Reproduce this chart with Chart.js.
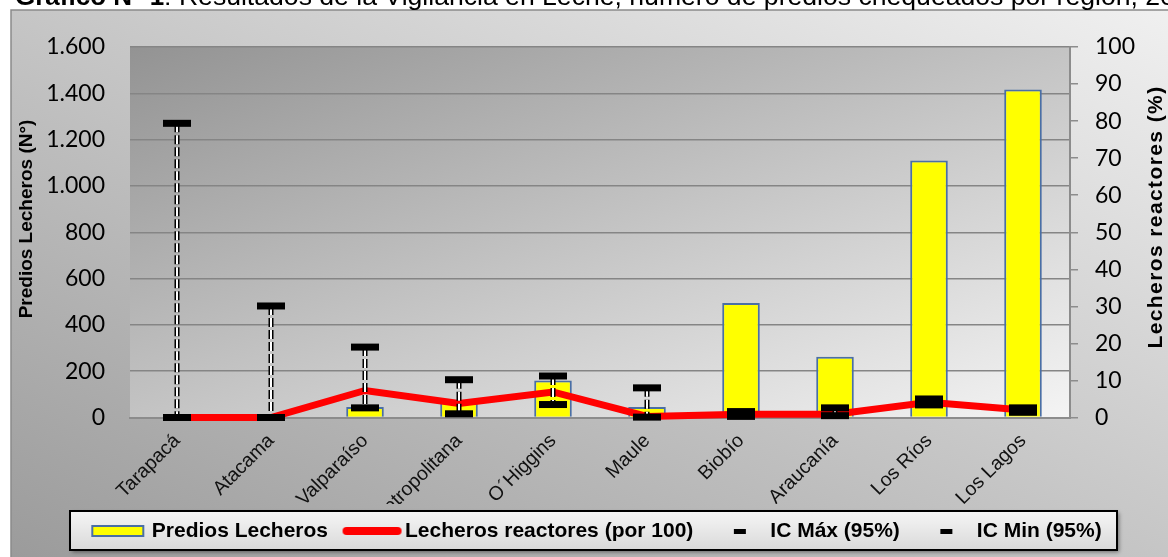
<!DOCTYPE html>
<html>
<head>
<meta charset="utf-8">
<script src="https://cdn.jsdelivr.net/npm/chart.js@4.4.1/dist/chart.umd.min.js"></script>
<style>
  html, body { margin: 0; padding: 0; background: #fff; }
  #wrap { position: relative; width: 1168px; height: 557px; overflow: hidden; }
</style>
</head>
<body>
<div id="wrap">
  <canvas id="grafico" width="1168" height="557"></canvas>
</div>
<script>
// datos
const regiones = ['Tarapacá', 'Atacama', 'Valparaíso', 'Metropolitana', 'O´Higgins', 'Maule', 'Biobío', 'Araucanía', 'Los Ríos', 'Los Lagos'];
const prediosLecheros = [3, 3, 45, 71, 160, 45, 494, 262, 1110, 1416];
const reactores = [0, 0, 7.3, 3.8, 6.9, 0.3, 0.9, 0.9, 4.1, 2.0];
const icMax = [79.4, 30.1, 19.0, 10.2, 11.2, 8.0, 1.6, 2.6, 5.0, 2.6];
const icMin = [0, 0, 2.6, 1.0, 3.5, 0.1, 0.3, 0.5, 3.4, 1.4];
const etiquetasIzq = ['0', '200', '400', '600', '800', '1.000', '1.200', '1.400', '1.600'];
const etiquetasDer = ['0', '10', '20', '30', '40', '50', '60', '70', '80', '90', '100'];

const tituloGrafico = ['Gráfico N° 1', ': Resultados de la Vigilancia en Leche, número de predios chequeados por región, 2012'];
const tituloIzq = 'Predios Lecheros (N°)';
const tituloDer = 'Lecheros reactores (%)';

// simbolos de la leyenda
function simbolo(w, h, dibujar) {
    const c = document.createElement('canvas');
    c.width = w;
    c.height = h;
    dibujar(c.getContext('2d'));
    return c;
}
const simBarra = simbolo(70, 16, g => {
    g.fillStyle = '#ffff00';
    g.fillRect(11, 3, 51, 10);
    g.strokeStyle = '#4a6fa5';
    g.lineWidth = 2;
    g.strokeRect(11, 3, 51, 10);
});
const simLinea = simbolo(68, 16, g => {
    g.strokeStyle = '#ff0000';
    g.lineWidth = 8;
    g.lineCap = 'round';
    g.beginPath();
    g.moveTo(11, 8);
    g.lineTo(62, 8);
    g.stroke();
});
const simIC = simbolo(40, 16, g => {
    g.fillStyle = '#000';
    g.fillRect(19, 6, 12, 5);
});

const fondo = {
    id: 'fondo',
    beforeDraw(chart) {
        const {ctx, chartArea: a} = chart;
        ctx.save();
        // marco exterior
        const W = 1157, H = 547, k1 = 2 * W * H / (W * W + H * H);
        let g = ctx.createLinearGradient(11, 557, 11 + H * k1, 557 - W * k1);
        g.addColorStop(0, '#9b9b9b');
        g.addColorStop(1, '#f0f0f0');
        ctx.fillStyle = g;
        ctx.fillRect(11, 10, 1170, 560);
        ctx.strokeStyle = '#8a8a8a';
        ctx.lineWidth = 1.5;
        ctx.beginPath();
        ctx.moveTo(11, 570);
        ctx.lineTo(11, 10);
        ctx.lineTo(1180, 10);
        ctx.stroke();
        // area de trazado
        const w = a.right - a.left, h = a.bottom - a.top, k = 2 * w * h / (w * w + h * h);
        g = ctx.createLinearGradient(a.left, a.top, a.left + h * k, a.top + w * k);
        g.addColorStop(0, '#939393');
        g.addColorStop(1, '#f4f4f4');
        ctx.fillStyle = g;
        ctx.fillRect(a.left, a.top, w, h);
        // titulo (cortado arriba)
        ctx.fillStyle = '#000';
        ctx.textBaseline = 'alphabetic';
        ctx.font = 'bold 26px "Liberation Sans"';
        ctx.fillText(tituloGrafico[0], 15, 5);
        const x2 = 15 + ctx.measureText(tituloGrafico[0]).width;
        ctx.font = '26.6px "Liberation Sans"';
        ctx.fillText(tituloGrafico[1], x2, 5);
        ctx.restore();
    },
    afterDatasetDraw(chart, args) {
        if (args.index !== 1) return;
        // lineas de los intervalos de confianza
        const {ctx, scales} = chart;
        ctx.save();
        ctx.setLineDash([9, 3]);
        for (let i = 0; i < regiones.length; i++) {
            const x = scales.x.getPixelForValue(i);
            const y1 = scales.y1.getPixelForValue(icMax[i]);
            const y2 = scales.y1.getPixelForValue(icMin[i]);
            ctx.beginPath();
            ctx.moveTo(x, y1);
            ctx.lineTo(x, y2);
            ctx.strokeStyle = '#000';
            ctx.lineWidth = 5;
            ctx.stroke();
            ctx.strokeStyle = '#fff';
            ctx.lineWidth = 2;
            ctx.stroke();
        }
        ctx.restore();
    },
    afterDraw(chart) {
        const ctx = chart.ctx;
        ctx.save();
        // titulos de ejes
        ctx.fillStyle = '#000';
        ctx.textAlign = 'center';
        ctx.textBaseline = 'middle';
        ctx.font = 'bold 19px "Liberation Sans"';
        ctx.translate(27, 219);
        ctx.rotate(-Math.PI / 2);
        ctx.fillText(tituloIzq, 0, 0);
        ctx.restore();
        ctx.save();
        ctx.fillStyle = '#000';
        ctx.textAlign = 'center';
        ctx.textBaseline = 'middle';
        ctx.font = 'bold 21px "Liberation Sans"';
        ctx.letterSpacing = '1.4px';
        ctx.translate(1156, 217);
        ctx.rotate(-Math.PI / 2);
        ctx.fillText(tituloDer, 0, 0);
        ctx.restore();
        // recuadro de la leyenda
        ctx.save();
        ctx.shadowColor = 'rgba(0,0,0,0.45)';
        ctx.shadowBlur = 4;
        ctx.shadowOffsetX = 2;
        ctx.shadowOffsetY = 2;
        const g = ctx.createLinearGradient(0, 511, 0, 550);
        g.addColorStop(0, '#f6f6f6');
        g.addColorStop(1, '#d9d9d9');
        ctx.fillStyle = g;
        ctx.fillRect(70, 511, 1047, 39);
        ctx.shadowColor = 'transparent';
        ctx.strokeStyle = '#000';
        ctx.lineWidth = 2;
        ctx.strokeRect(70, 511, 1047, 39);
        ctx.restore();
        chart.legend.draw();
    }
};

const ctx = document.getElementById('grafico').getContext('2d');
const myChart = new Chart(ctx, {
    data: {
        labels: regiones,
        datasets: [{
            type: 'bar',
            label: 'Predios Lecheros',
            data: prediosLecheros,
            yAxisID: 'y',
            backgroundColor: '#ffff00',
            borderColor: '#4a6fa5',
            borderWidth: 2,
            barPercentage: 0.4,
            categoryPercentage: 1,
            order: 3
        }, {
            type: 'line',
            label: 'Lecheros reactores (por 100)',
            data: reactores,
            yAxisID: 'y1',
            borderColor: '#ff0000',
            borderWidth: 7,
            pointRadius: 0,
            tension: 0,
            clip: false,
            order: 2
        }, {
            type: 'line',
            label: 'IC Máx (95%)',
            data: icMax,
            yAxisID: 'y1',
            showLine: false,
            pointStyle: 'line',
            pointRadius: 14,
            pointBorderWidth: 7,
            borderColor: '#000',
            clip: false,
            order: 0
        }, {
            type: 'line',
            label: 'IC Min (95%)',
            data: icMin,
            yAxisID: 'y1',
            showLine: false,
            pointStyle: 'line',
            pointRadius: 14,
            pointBorderWidth: 7,
            borderColor: '#000',
            clip: false,
            order: 1
        }]
    },
    options: {
        responsive: false,
        animation: false,
        events: [],
        layout: { padding: { left: 25, right: 0, top: 47, bottom: 5.5 } },
        plugins: {
            tooltip: { enabled: false },
            legend: {
                position: 'bottom',
                labels: {
                    usePointStyle: true,
                    pointStyleWidth: 50,
                    boxHeight: 21,
                    padding: 16.5,
                    color: '#000',
                    font: { family: 'Liberation Sans', size: 21, weight: 'bold' },
                    generateLabels: chart => {
                        const sims = [simBarra, simLinea, simIC, simIC];
                        return chart.data.datasets.map((d, i) => ({
                            text: d.label,
                            pointStyle: sims[i],
                            fillStyle: 'transparent',
                            strokeStyle: 'transparent',
                            fontColor: '#000',
                            lineWidth: 0,
                            datasetIndex: i,
                            hidden: false
                        }));
                    }
                }
            }
        },
        scales: {
            x: {
                grid: { display: false, drawTicks: false },
                border: { color: '#8c8c8c', width: 2 },
                ticks: {
                    autoSkip: false,
                    maxRotation: 45,
                    minRotation: 45,
                    padding: 12,
                    color: '#111',
                    font: { family: 'Liberation Sans', size: 19.5 }
                },
                afterFit: s => { s.height = 86.5; }
            },
            y: {
                position: 'left',
                min: 0,
                max: 1600,
                grid: { color: '#858585', lineWidth: 1.5, drawTicks: false },
                border: { display: false },
                ticks: {
                    stepSize: 200,
                    padding: 25,
                    color: '#000',
                    font: { family: 'Lato', size: 23 },
                    callback: (v, i) => etiquetasIzq[i]
                },
                afterFit: s => { s.width = 105; }
            },
            y1: {
                position: 'right',
                min: 0,
                max: 100,
                grid: { drawOnChartArea: false, color: '#8c8c8c', lineWidth: 1.5, tickLength: 8 },
                border: { color: '#8c8c8c', width: 2 },
                ticks: {
                    stepSize: 10,
                    padding: 17,
                    color: '#000',
                    font: { family: 'Lato', size: 23 },
                    callback: (v, i) => etiquetasDer[i]
                },
                afterFit: s => { s.width = 98; }
            }
        }
    },
    plugins: [fondo]
});
</script>
</body>
</html>
